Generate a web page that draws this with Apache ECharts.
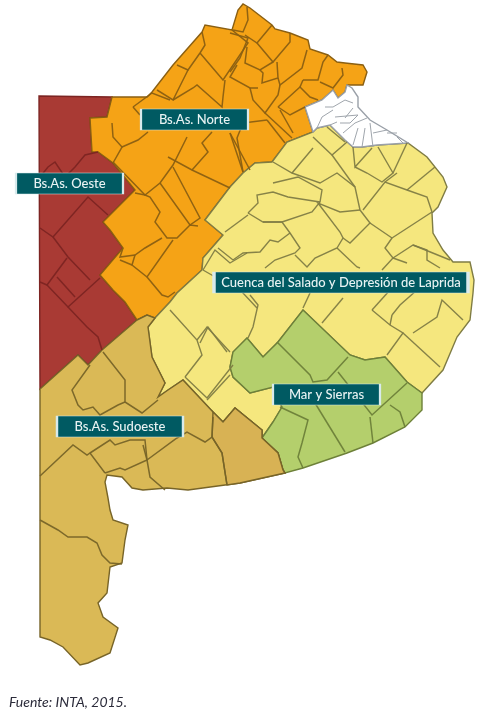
<!DOCTYPE html>
<html>
<head>
<meta charset="UTF-8">
<title>Regiones de Buenos Aires</title>
<script src="https://cdn.jsdelivr.net/npm/echarts@6/dist/echarts.min.js"></script>
<style>
  html, body { margin: 0; padding: 0; background: #fff; }
  #chart { width: 493px; height: 716px; }
</style>
</head>
<body>
<div id="chart"></div>
<script>
// shared borders between the regions (map units)
var edgeRedOrange = [[112,97],[107,117],[90,118],[92,152],[98,152],[113,163],[135,190],[103,222],[110,230],[123,248],[100,275],[113,290],[125,302],[137,320]];
var edgeRedTan = [[137,320],[102,350],[88,365],[78,355],[40,389]];
var edgeOrangeNorth = [[112,97],[147,97],[152,92],[173,65],[202,32],[205,25],[232,30],[238,10],[243,4],[250,8],[272,25],[275,29],[290,33],[308,40],[310,49],[328,55],[337,62],[345,63],[363,65],[367,72],[363,85],[347,85]];
var edgeOrangeWhite = [[347,85],[345,92],[338,98],[333,90],[322,100],[305,107],[313,132]];
var edgeOrangeYellow = [[313,132],[287,142],[272,162],[255,163],[243,173],[230,187],[205,220],[223,235],[203,258],[202,270],[177,293],[170,302],[155,318]];
var edgeOrangeTan = [[155,318],[147,315],[137,320]];
var edgeWhiteNorth = [[347,85],[352,88],[358,97],[358,107],[370,120],[387,130],[408,143]];
var edgeWhiteYellow = [[408,143],[377,145],[362,147],[353,147],[345,140],[330,125],[317,128],[313,132]];
var edgeYellowCoast = [[408,143],[427,157],[443,177],[447,187],[438,207],[432,213],[433,233],[443,250],[453,262],[470,262],[474,280],[473,293],[470,320],[457,337],[443,370],[422,393]];
var edgeYellowGreen = [[422,393],[407,382],[385,357],[365,360],[350,355],[303,310],[278,342],[263,357],[247,338],[233,352],[230,367],[233,377],[250,393],[273,387],[282,407],[273,422],[262,438]];
var edgeYellowTan = [[262,438],[262,430],[235,408],[223,422],[213,412],[183,380],[168,390],[158,397],[165,383],[152,357],[148,327],[155,318]];
var edgeGreenCoast = [[422,393],[422,410],[405,427],[373,443],[347,453],[303,468],[285,473]];
var edgeGreenTan = [[285,473],[283,470],[278,453],[262,438]];
var edgeTanCoast = [[285,473],[240,483],[188,490],[167,488],[143,490],[132,488],[122,477],[107,475],[105,482],[108,498],[110,510],[113,520],[128,525],[125,540],[122,563],[110,567],[107,593],[98,603],[103,617],[118,628],[110,653],[88,663],[80,665],[63,647],[50,640],[40,637]];
var edgeRedTop = [[39,96],[112,97]];
// the darker part of Sudoeste, east of the last county line
var patchSudoesteEste = [[213,412],[223,422],[235,408],[262,430],[262,438],[278,453],[283,470],[285,473],[240,483],[227,485],[222,453],[212,437]];

// county borders inside each region
var countiesOeste = [
  [[40,177],[48,167],[55,162],[65,177],[75,167],[85,155],[98,152]],
  [[40,228],[53,237],[88,197],[108,215]],
  [[53,237],[68,257],[90,280]],
  [[40,282],[47,285],[67,258]],
  [[47,285],[68,307],[100,278]],
  [[57,277],[75,297]],
  [[68,307],[87,327],[98,337],[102,350]]
];
var countiesNorte = [
  [[202,32],[205,45],[200,53],[188,70],[177,65]],
  [[200,53],[223,80],[248,43],[232,30]],
  [[188,70],[173,100],[157,90]],
  [[173,100],[193,88],[197,85],[222,107],[223,97],[225,80]],
  [[133,107],[152,93],[170,100]],
  [[133,107],[140,115]],
  [[112,123],[113,137],[122,147],[113,163]],
  [[122,147],[138,140],[148,132]],
  [[113,162],[145,195],[160,183],[173,165],[187,137]],
  [[168,157],[192,170],[208,152],[202,143],[212,132]],
  [[160,183],[190,225],[200,218],[173,167]],
  [[192,170],[230,188]],
  [[135,193],[145,195],[150,197],[160,212],[155,222],[167,238],[177,238],[190,225],[198,226]],
  [[230,133],[243,157],[250,170]],
  [[247,7],[248,20],[243,32],[233,30]],
  [[245,35],[257,43],[272,25]],
  [[257,43],[273,62],[290,42],[290,33]],
  [[247,47],[245,63],[260,70],[273,62]],
  [[230,33],[248,38],[240,58],[230,72]],
  [[237,65],[230,77],[250,88],[258,88]],
  [[260,70],[263,73],[262,83],[278,78],[277,62]],
  [[278,78],[280,85],[302,68],[307,50]],
  [[250,88],[253,100],[265,113],[278,95],[280,85]],
  [[278,107],[300,87],[310,97],[318,100]],
  [[303,80],[318,80],[323,62],[328,55]],
  [[320,82],[333,88],[343,75],[342,68]],
  [[300,87],[303,80]],
  [[278,107],[290,115],[305,107]],
  [[265,113],[292,138]],
  [[280,110],[293,133]],
  [[243,123],[267,120]],
  [[243,123],[237,138],[243,172]],
  [[230,133],[243,172]],
  [[267,120],[285,143]],
  [[162,238],[145,248],[135,255],[120,257],[123,248]],
  [[135,255],[132,265],[147,277],[173,240]],
  [[120,260],[132,265]],
  [[147,277],[162,295],[168,297],[175,292]]
];
var countiesCuenca = [
  [[327,127],[345,142]],
  [[313,137],[332,155],[347,142]],
  [[313,148],[292,173],[273,162]],
  [[292,173],[320,183],[337,173],[355,187],[360,210]],
  [[332,155],[355,187]],
  [[353,147],[355,167],[372,148]],
  [[355,167],[367,173],[382,182],[393,173],[378,147]],
  [[393,173],[407,143]],
  [[363,210],[385,182],[407,190],[427,197],[432,212]],
  [[397,173],[385,182]],
  [[407,190],[435,167]],
  [[360,210],[340,212],[318,203],[340,232],[343,238],[337,248],[315,258],[307,267],[295,255]],
  [[273,183],[298,177],[322,190],[320,202],[312,212],[282,222],[263,222],[248,213]],
  [[248,213],[258,203],[257,195],[273,192],[288,197],[320,202]],
  [[248,215],[225,232]],
  [[263,222],[282,222],[290,233],[300,248],[295,253],[275,260],[265,268]],
  [[218,248],[233,260],[243,253],[260,252],[270,240],[278,242],[290,233]],
  [[343,238],[350,243],[370,223],[360,210]],
  [[370,223],[392,238],[432,212]],
  [[392,238],[385,248],[393,258],[382,270]],
  [[337,248],[357,267],[360,268]],
  [[393,258],[413,245],[427,250],[427,260],[440,268]],
  [[413,245],[450,260]],
  [[393,258],[407,263]],
  [[250,295],[258,305],[253,327],[248,338]],
  [[200,343],[208,327],[227,352]],
  [[303,308],[310,293]],
  [[322,323],[343,298]],
  [[372,310],[390,290]],
  [[372,310],[390,325],[403,333],[387,355]],
  [[392,315],[400,305],[417,290]],
  [[403,333],[440,367]],
  [[413,333],[437,317],[442,300],[463,320]],
  [[390,325],[392,315]],
  [[170,310],[197,340],[202,355],[185,377]],
  [[197,340],[207,327],[230,352]],
  [[233,365],[207,398],[185,377]],
  [[207,400],[230,375]],
  [[203,270],[215,250],[230,263],[247,253]],
  [[203,270],[243,293],[257,308]]
];
var countiesMar = [
  [[277,342],[310,375],[313,382],[327,380],[348,357]],
  [[338,372],[372,415],[407,383]],
  [[370,417],[373,443]],
  [[390,405],[400,412],[405,427]],
  [[315,403],[345,452]],
  [[280,407],[308,420],[302,443],[298,457],[303,468]]
];
var countiesSudoeste = [
  [[103,352],[125,380],[125,402],[142,413],[158,400]],
  [[90,365],[72,390],[78,405],[83,410],[93,407],[100,415],[118,405],[125,402]],
  [[40,476],[73,445],[87,455],[90,453],[105,473]],
  [[90,453],[110,440],[115,445],[130,440],[145,440],[147,460],[125,470],[120,468],[105,473]],
  [[147,460],[177,438],[187,432],[205,442],[212,437],[213,417]],
  [[143,445],[147,460],[150,477],[165,490]],
  [[212,437],[222,453],[227,485]],
  [[40,520],[58,530],[68,537],[87,537],[97,543],[102,555],[110,563],[122,564]]
];
var countiesGba = [
  [[325,107],[333,107],[345,100],[353,103]],
  [[317,128],[322,117],[333,110]],
  [[335,117],[358,115]],
  [[345,118],[353,108]],
  [[340,123],[350,123],[358,115]],
  [[330,125],[337,122]],
  [[343,133],[355,123],[367,118]],
  [[353,145],[358,128]],
  [[362,147],[365,128]],
  [[373,147],[370,123]],
  [[373,133],[387,130]],
  [[387,133],[397,133]],
  [[397,137],[403,143]]
];

var regionNames = ['Bs.As. Oeste', 'Bs.As. Norte', 'Cuenca del Salado y Depresión de Laprida', 'Mar y Sierras', 'Bs.As. Sudoeste', 'GBA', 'Sudoeste este'];
var regionLabels = ['Bs.As. Oeste', 'Bs.As. Norte', 'Cuenca del Salado y Depresión de Laprida', 'Mar y Sierras', 'Bs.As. Sudoeste'];
var labelPoints = [[69.5,183.5],[194.5,119.5],[341,282.5],[326.5,394.5],[120,426.5]];
var labelWidths = [107,107,254,107,126];

function rev(a) { return a.slice().reverse(); }
function ring() { return [[].concat.apply([], arguments)]; }

var regionRings = [
  ring(edgeRedTop, edgeRedOrange, edgeRedTan),
  ring(edgeOrangeNorth, edgeOrangeWhite, edgeOrangeYellow, edgeOrangeTan, rev(edgeRedOrange)),
  ring(rev(edgeWhiteYellow), edgeYellowCoast, edgeYellowGreen, edgeYellowTan, rev(edgeOrangeYellow)),
  ring(rev(edgeYellowGreen), edgeGreenCoast, edgeGreenTan),
  ring(rev(edgeOrangeTan), rev(edgeYellowTan), rev(edgeGreenTan), edgeTanCoast, rev(edgeRedTan)),
  ring(edgeWhiteNorth, edgeWhiteYellow, rev(edgeOrangeWhite)),
  [patchSudoesteEste]
];
var regionFill = ['#a93a34', '#f5a316', '#f5e77e', '#b4cf6c', '#dab956', '#ffffff', '#d8b254'];
var regionLine = ['#7c2422', '#8a5f12', '#7f7c44', '#6d8039', '#776428', '#9aa0a8', '#776428'];

var geoJson = {
  type: 'FeatureCollection',
  features: regionNames.map(function (name, i) {
    return {
      type: 'Feature',
      properties: { name: name },
      geometry: { type: 'Polygon', coordinates: regionRings[i] }
    };
  })
};
echarts.registerMap('bsas', geoJson);

function borderSeries(list, color, width) {
  return {
    type: 'lines',
    coordinateSystem: 'geo',
    polyline: true,
    silent: true,
    lineStyle: { color: color, width: width, opacity: 0.95 },
    data: list.map(function (c) { return { coords: c }; })
  };
}

var chart = echarts.init(document.getElementById('chart'));
chart.setOption({
  animation: false,
  backgroundColor: '#ffffff',
  geo: {
    map: 'bsas',
    roam: false,
    silent: true,
    left: 0,
    top: 0,
    width: 493,
    height: 716,
    boundingCoords: [[0, 0], [493, 716]],
    projection: {
      project: function (p) { return p; },
      unproject: function (p) { return p; }
    },
    label: { show: false },
    itemStyle: { borderWidth: 1.4 },
    regions: regionNames.map(function (name, i) {
      return { name: name, itemStyle: { areaColor: regionFill[i], borderColor: regionLine[i] } };
    })
  },
  series: [
    borderSeries(countiesOeste, regionLine[0], 1.5),
    borderSeries(countiesNorte, regionLine[1], 1.5),
    borderSeries(countiesCuenca, regionLine[2], 1.4),
    borderSeries(countiesMar, regionLine[3], 1.5),
    borderSeries(countiesSudoeste, regionLine[4], 1.5),
    borderSeries(countiesGba, regionLine[5], 1),
    {
      type: 'scatter',
      coordinateSystem: 'geo',
      silent: true,
      symbol: 'rect',
      itemStyle: { color: '#005a62', borderColor: '#d8eaec', borderWidth: 1, opacity: 1 },
      label: {
        show: true,
        position: 'inside',
        color: '#e8f3f3',
        fontFamily: 'Lato',
        fontWeight: 500,
        fontSize: 13,
        formatter: function (p) { return p.name; }
      },
      z: 10,
      data: regionLabels.map(function (name, i) {
        return { name: name, value: labelPoints[i], symbolSize: [labelWidths[i], 21] };
      })
    }
  ],
  graphic: [{
    type: 'text',
    left: 9,
    top: 695,
    style: {
      text: 'Fuente: INTA, 2015.',
      fill: '#2b2b3a',
      font: 'italic 14px Lato'
    }
  }]
});
</script>
</body>
</html>
